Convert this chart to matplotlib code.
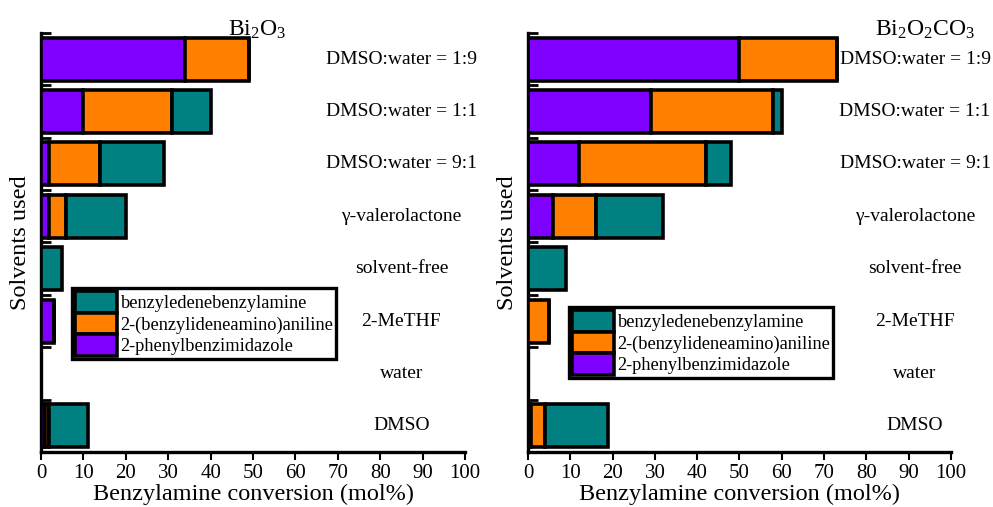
import numpy as np
import matplotlib
matplotlib.use("Agg")
import matplotlib.pyplot as plt
from matplotlib.patches import Patch

plt.rcParams['font.family'] = ['Liberation Serif', 'DejaVu Serif']
plt.rcParams['mathtext.fontset'] = 'custom'
plt.rcParams['mathtext.rm'] = 'Liberation Serif'
plt.rcParams['mathtext.it'] = 'Liberation Serif:italic'

solvents = ["DMSO:water = 1:9", "DMSO:water = 1:1", "DMSO:water = 9:1",
            "\u03b3-valerolactone", "solvent-free", "2-MeTHF", "water", "DMSO"]

# Bi2O3
bi2o3_phenyl = [34, 10, 2, 2, 0, 3, 0, 1]
bi2o3_anil = [15, 21, 12, 4, 0, 0, 0, 1]
bi2o3_benzyl = [0, 9, 15, 14, 5, 0, 0, 9]

# Bi2O2CO3
bioc_phenyl = [50, 29, 12, 6, 0, 0, 0, 0.6]
bioc_anil = [23, 29, 30, 10, 0, 5, 0, 3.4]
bioc_benzyl = [0, 2, 6, 16, 9, 0, 0, 15]

series_names = ["2-phenylbenzimidazole", "2-(benzylideneamino)aniline", "benzyledenebenzylamine"]
colors = ["#7F00FF", "#FF8000", "#008080"]

fig = plt.figure(figsize=(9.93, 5.07), dpi=100)
ax1 = fig.add_axes([0.0413, 0.1085, 0.4270, 0.8264])
ax2 = fig.add_axes([0.5317, 0.1085, 0.4260, 0.8264])

panels = [
    (ax1, [bi2o3_phenyl, bi2o3_anil, bi2o3_benzyl], r"Bi$_2$O$_3$", 0.51, 85, (0.073, 0.391)),
    (ax2, [bioc_phenyl, bioc_anil, bioc_benzyl], r"Bi$_2$O$_2$CO$_3$", 0.938, 91.5, (0.097, 0.346)),
]

ypos = np.arange(len(solvents))

for ax, data, title, tx, labx, legpos in panels:
    left = np.zeros(len(solvents))
    for vals, c in zip(data, colors):
        vals = np.array(vals, dtype=float)
        ax.barh(ypos, vals, left=left, height=0.82, color=c, edgecolor='black',
                linewidth=2.6, joinstyle='miter', zorder=3)
        left += vals
    for y, s in zip(ypos, solvents):
        ax.text(labx, y, s, ha='center', va='center', fontsize=14)
    ax.text(tx, 0.993, title, transform=ax.transAxes, ha='center', va='baseline', fontsize=17)

    ax.set_xlim(0, 100)
    ax.set_ylim(len(solvents) - 0.5, -0.5)
    ax.set_xticks(np.arange(0, 101, 10))
    ax.set_yticks(np.arange(-0.5, len(solvents), 1.0))
    ax.set_yticklabels([])
    ax.tick_params(axis='y', direction='in', length=7, width=2)
    ax.tick_params(axis='x', direction='out', length=6, width=1.5, labelsize=15, pad=3)
    for sp in ['top', 'right']:
        ax.spines[sp].set_visible(False)
    for sp in ['left', 'bottom']:
        ax.spines[sp].set_linewidth(2.4)
    ax.set_xlabel("Benzylamine conversion (mol%)", fontsize=17.5, labelpad=0)
    ax.set_ylabel("Solvents used", fontsize=17.5, labelpad=4)

    handles = [Patch(facecolor=c, edgecolor='black', linewidth=2.6) for c in colors[::-1]]
    leg = ax.legend(handles, series_names[::-1], loc='upper left', bbox_to_anchor=legpos,
                    fontsize=13.2, frameon=True, fancybox=False, framealpha=1,
                    handlelength=2.3, handleheight=1.45, labelspacing=0.0, handletextpad=0.2,
                    borderpad=0.15, borderaxespad=0)
    leg.get_frame().set_edgecolor('black')
    leg.get_frame().set_linewidth(2.4)
    leg.set_zorder(5)

fig.savefig("out.png", dpi=100)
